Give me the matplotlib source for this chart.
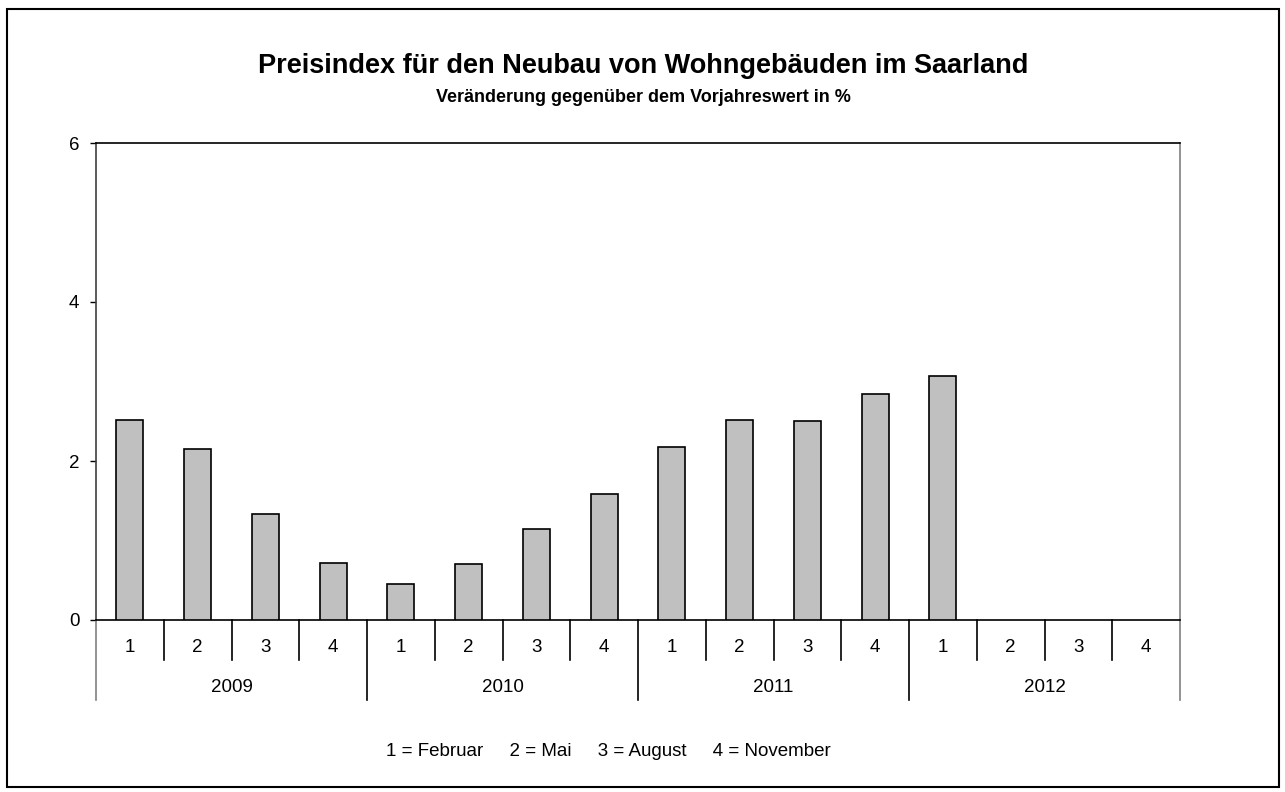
import numpy as np
import matplotlib.pyplot as plt
import matplotlib.transforms as mtransforms
from matplotlib.patches import Rectangle

plt.rcParams['font.family'] = ['Liberation Sans', 'DejaVu Sans']

years = ['2009', '2010', '2011', '2012']
quarters = ['1', '2', '3', '4']
#change vs. previous year in %, last three quarters of 2012 not yet published
values = [2.52, 2.15, 1.33, 0.72,
          0.45, 0.70, 1.14, 1.58,
          2.18, 2.52, 2.50, 2.84,
          3.07, np.nan, np.nan, np.nan]
legend_text = '1 = Februar     2 = Mai     3 = August     4 = November'

fig = plt.figure(figsize=(12.85, 7.92), dpi=100)
ax = fig.add_axes([96/1285, 1 - 620/792, (1180 - 96)/1285, (620 - 143)/792])

x = np.arange(len(values))
ax.bar(x, values, width=0.4, color='#c0c0c0', edgecolor='black', linewidth=1.2, zorder=3)

ax.set_xlim(-0.5, len(values) - 0.5)
ax.set_ylim(0, 6)
ax.set_yticks([0, 2, 4, 6])
ax.tick_params(axis='y', direction='out', length=4, width=1, pad=8, labelsize=13.5)
ax.set_xticks([])

ax.spines['top'].set_color('black')
ax.spines['left'].set_color('#404040')
ax.spines['right'].set_color('#808080')
ax.spines['bottom'].set_color('black')
for s in ax.spines.values():
    s.set_linewidth(1.2)

#two level category axis below the plot
trans = mtransforms.blended_transform_factory(ax.transData, ax.transAxes)
h_q = 40 / 477
h_y = 80 / 477
for k in range(len(values) + 1):
    xb = k - 0.5
    if k % 4 == 0:
        col = '#808080' if k in (0, len(values)) else 'black'
        ax.plot([xb, xb], [0, -h_y], color=col, lw=1.2, transform=trans, clip_on=False)
    else:
        ax.plot([xb, xb], [0, -h_q], color='black', lw=1.2, transform=trans, clip_on=False)

for i in range(len(values)):
    ax.text(i, -27/477, quarters[i % 4], transform=trans, ha='center', va='center', fontsize=13.5)
for j, yr in enumerate(years):
    ax.text(j * 4 + 1.5, -67/477, yr, transform=trans, ha='center', va='center', fontsize=13.5)

fig.text(643/1285, 1 - 66/792, 'Preisindex für den Neubau von Wohngebäuden im Saarland',
         ha='center', va='center', fontsize=19.5, fontweight='bold')
fig.text(643/1285, 1 - 97/792, 'Veränderung gegenüber dem Vorjahreswert in %',
         ha='center', va='center', fontsize=13, fontweight='bold')
fig.text(608/1285, 1 - 751/792, legend_text, ha='center', va='center', fontsize=13.5)

fig.patches.append(Rectangle((7/1285, 5/792), 1272/1285, 778/792, transform=fig.transFigure,
                             fill=False, edgecolor='black', linewidth=1.5))

fig.savefig('out.png', dpi=100)
